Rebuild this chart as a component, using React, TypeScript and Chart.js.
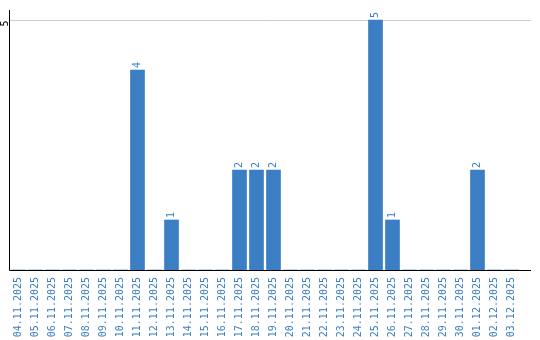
import React, { useEffect, useRef } from "react";
import { Chart, registerables } from "chart.js";

Chart.register(...registerables);

const categories = [
  "04.11.2025", "05.11.2025", "06.11.2025", "07.11.2025", "08.11.2025",
  "09.11.2025", "10.11.2025", "11.11.2025", "12.11.2025", "13.11.2025",
  "14.11.2025", "15.11.2025", "16.11.2025", "17.11.2025", "18.11.2025",
  "19.11.2025", "20.11.2025", "21.11.2025", "22.11.2025", "23.11.2025",
  "24.11.2025", "25.11.2025", "26.11.2025", "27.11.2025", "28.11.2025",
  "29.11.2025", "30.11.2025", "01.12.2025", "02.12.2025", "03.12.2025",
];
const counts = [
  0, 0, 0, 0, 0, 0, 0, 4, 0, 1,
  0, 0, 0, 2, 2, 2, 0, 0, 0, 0,
  0, 5, 1, 0, 0, 0, 0, 2, 0, 0,
];
const yTickLabels = [5];

const BLUE = "#3b7ec3";
const FONT = "'DejaVu Sans Mono', monospace";

const axesPlugin = {
  id: "axesLines",
  beforeDatasetsDraw(chart: any) {
    const { ctx, chartArea, scales } = chart;
    const y = scales.y;
    const left = chartArea.left;
    const right = chartArea.right + 11;
    ctx.save();
    ctx.lineWidth = 1;
    ctx.strokeStyle = "#cccccc";
    ctx.font = "10px " + FONT;
    yTickLabels.forEach((v) => {
      const py = Math.round(y.getPixelForValue(v)) + 0.5;
      ctx.beginPath();
      ctx.moveTo(left, py);
      ctx.lineTo(right, py);
      ctx.stroke();
      ctx.save();
      ctx.fillStyle = "#000";
      ctx.textAlign = "right";
      ctx.textBaseline = "alphabetic";
      ctx.translate(left - 2, py);
      ctx.rotate(-Math.PI / 2);
      ctx.fillText(String(v), 0, 0);
      ctx.restore();
    });
    ctx.restore();
  },
  afterDatasetsDraw(chart: any) {
    const { ctx, chartArea } = chart;
    ctx.save();
    ctx.lineWidth = 1;
    ctx.strokeStyle = "#000000";
    const bx = Math.round(chartArea.left) - 0.5;
    const by = Math.round(chartArea.bottom) + 0.5;
    ctx.beginPath();
    ctx.moveTo(bx, chartArea.top);
    ctx.lineTo(bx, by);
    ctx.lineTo(chartArea.right + 11, by);
    ctx.stroke();
    // value labels
    const meta = chart.getDatasetMeta(0);
    ctx.fillStyle = BLUE;
    ctx.font = "10px " + FONT;
    ctx.textAlign = "left";
    ctx.textBaseline = "middle";
    meta.data.forEach((bar: any, i: number) => {
      const v = chart.data.datasets[0].data[i];
      if (!v) return;
      ctx.save();
      ctx.translate(bar.x, bar.y - 2);
      ctx.rotate(-Math.PI / 2);
      ctx.fillText(String(v), 0, 0);
      ctx.restore();
    });
    ctx.restore();
  },
};

export default function App() {
  const ref = useRef<HTMLCanvasElement>(null);
  useEffect(() => {
    document.body.style.margin = "0";
    const chart = new Chart(ref.current!, {
      type: "bar",
      data: {
        labels: categories,
        datasets: [
          {
            data: counts,
            backgroundColor: BLUE,
            barThickness: 14,
          },
        ],
      },
      options: {
        animation: false,
        responsive: false,
        layout: { padding: { top: 10, right: 20, left: 0, bottom: 0 } },
        plugins: { legend: { display: false }, tooltip: { enabled: false } },
        scales: {
          x: {
            grid: { display: false, drawTicks: false },
            border: { display: false },
            ticks: {
              color: BLUE,
              font: { family: FONT, size: 10 },
              minRotation: 90,
              maxRotation: 90,
              padding: 7,
              autoSkip: false,
            },
            afterFit: (s: any) => {
              s.height = 70;
            },
          },
          y: {
            min: 0,
            max: 5.2,
            grid: { display: false, drawTicks: false },
            border: { display: false },
            ticks: { display: false },
            afterFit: (s: any) => {
              s.width = 10;
            },
          },
        },
      },
      plugins: [axesPlugin],
    });
    return () => chart.destroy();
  }, []);
  return (
    <div style={{ width: 540, height: 340 }}>
      <canvas ref={ref} width={540} height={340} />
    </div>
  );
}
